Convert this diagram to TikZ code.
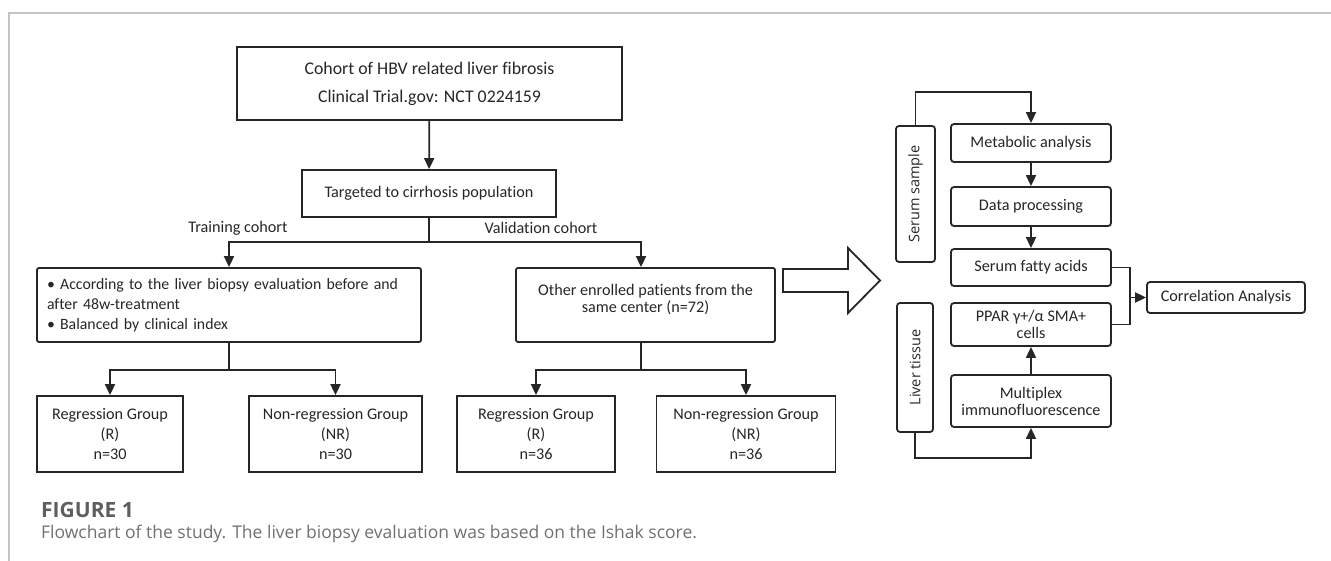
\documentclass[tikz,border=0pt]{standalone}
\usepackage{fontspec}
\setmainfont{Carlito}[Ligatures=NoCommon]
\newfontfamily\osans{Open Sans}
\usetikzlibrary{arrows.meta}
\definecolor{ink}{HTML}{262626}
\definecolor{frame}{HTML}{C4C4C4}
\definecolor{capA}{HTML}{5E5E5E}
\definecolor{capB}{HTML}{707070}
\tikzset{
  box/.style={draw=ink, line width=1.8pt, inner sep=0pt, align=center, text=ink, font=\fontsize{16.2}{20}\selectfont},
  rbox/.style={box, rounded corners=3pt},
  vbox/.style={rbox, rotate=90, font=\osans\fontsize{14.5}{16}\selectfont},
  lbl/.style={text=ink, inner sep=0pt, font=\fontsize{16.2}{20}\selectfont},
  ln/.style={draw=ink, line width=1.8pt},
  arr/.style={ln, -{Triangle[length=11pt,width=10pt]}},
}
\begin{document}
\begin{tikzpicture}[x=1pt,y=-1pt]
\useasboundingbox (0,0) rectangle (1331,561);
% frame lines
\draw[frame, line width=1.2pt] (9,561) -- (9,13) -- (1331,13);

% left flow
\node[box, minimum width=385, minimum height=73, font=\fontsize{17.8}{20}\selectfont] (top) at (429.5,83.5)
  {Cohort of HBV related liver fibrosis\\[8pt]Clinical Trial.gov: NCT 0224159};
\node[box, minimum width=254, minimum height=47] (targ) at (429,193.5) {Targeted to cirrhosis population};
\node[lbl] (ltrain) at (238,228) {Training cohort};
\node[lbl] (lval) at (541,228) {Validation cohort};
\node[box, rounded corners=2pt, minimum width=384, minimum height=74, text width=364, align=left, font=\fontsize{15.8}{20}\selectfont] (train) at (229,305)
  {• According to the liver biopsy evaluation before and\\after 48w-treatment\\• Balanced by clinical index};
\node[box, rounded corners=2pt, minimum width=259, minimum height=74, font=\fontsize{16.2}{17}\selectfont] (other) at (645.5,305)
  {Other enrolled patients from the\\same center (n=72)\\[-3pt]};
\node[box, minimum width=146, minimum height=76] (r1) at (110,434) {Regression Group\\(R)\\n=30};
\node[box, minimum width=173, minimum height=76] (nr1) at (335.5,434) {Non-regression Group\\(NR)\\n=30};
\node[box, minimum width=158, minimum height=76] (r2) at (536,434) {Regression Group\\(R)\\n=36};
\node[box, minimum width=179, minimum height=76] (nr2) at (746,434) {Non-regression Group\\(NR)\\n=36};

\coordinate (b1) at (429,242);
\coordinate (tl) at (229,242);
\coordinate (tr) at (641,242);
\draw[arr] (top) -- (targ);
\draw[ln] (targ) -- (b1);
\draw[arr] (b1) -- (tl) -- (train.north -| tl);
\draw[arr] (b1) -- (tr) -- (other.north -| tr);

\coordinate (b2) at (229,370);
\draw[ln] (train.south -| b2) -- (b2);
\draw[arr] (b2) -- (b2 -| r1) -- (r1.north);
\draw[arr] (b2) -- (b2 -| nr1) -- (nr1.north);
\coordinate (b3) at (641,370);
\draw[ln] (other.south -| b3) -- (b3);
\draw[arr] (b3) -- (b3 -| r2) -- (r2.north);
\draw[arr] (b3) -- (b3 -| nr2) -- (nr2.north);

% big hollow arrow
\draw[ink, line width=1.8pt, line join=miter] (783,269) -- (848,269) -- (848,248) -- (880,280.5) -- (848,313) -- (848,292) -- (783,292) -- cycle;

% right column
\node[vbox, minimum width=136, minimum height=39] (serum) at (915.5,194) {Serum sample};
\node[vbox, minimum width=129, minimum height=36] (liver) at (915,367.5) {Liver tissue};
\node[rbox, minimum width=160, minimum height=38] (meta) at (1031,143) {Metabolic analysis};
\node[rbox, minimum width=160, minimum height=39] (data) at (1031,206.5) {Data processing};
\node[rbox, minimum width=160, minimum height=37] (fatty) at (1031,267.5) {Serum fatty acids};
\node[rbox, minimum width=160, minimum height=43, font=\fontsize{16.2}{17}\selectfont] (ppar) at (1031,324.5) {PPAR γ+/α SMA+\\cells};
\node[rbox, minimum width=160, minimum height=52, font=\fontsize{16.2}{17}\selectfont] (multi) at (1031,401) {Multiplex\\immunofluorescence};
\node[rbox, minimum width=158, minimum height=31] (corr) at (1226,297.5) {Correlation Analysis};

\coordinate (s1) at (915.5,92);
\draw[arr] (serum.east) -- (s1) -- (s1 -| meta) -- (meta.north);
\draw[arr] (meta) -- (data);
\draw[arr] (data) -- (fatty);
\draw[arr] (multi) -- (ppar);
\coordinate (l1) at (915,458);
\draw[arr] (liver.west) -- (l1) -- (l1 -| multi) -- (multi.south);
\coordinate (j) at (1130,297.5);
\draw[ln] (fatty.east) -- (fatty.east -| j) -- (ppar.east -| j) -- (ppar.east);
\draw[arr] (j) -- (corr.west);

% caption
\node[anchor=west, inner sep=0pt, text=capA, font=\osans\bfseries\fontsize{21}{24}\selectfont] (fig) at (41,510) {FIGURE 1};
\node[anchor=west, inner sep=0pt, text=capB, font=\osans\fontsize{17.5}{20}\selectfont] (cap) at (41,534)
  {Flowchart of the study. The liver biopsy evaluation was based on the Ishak score.};
\end{tikzpicture}
\end{document}
